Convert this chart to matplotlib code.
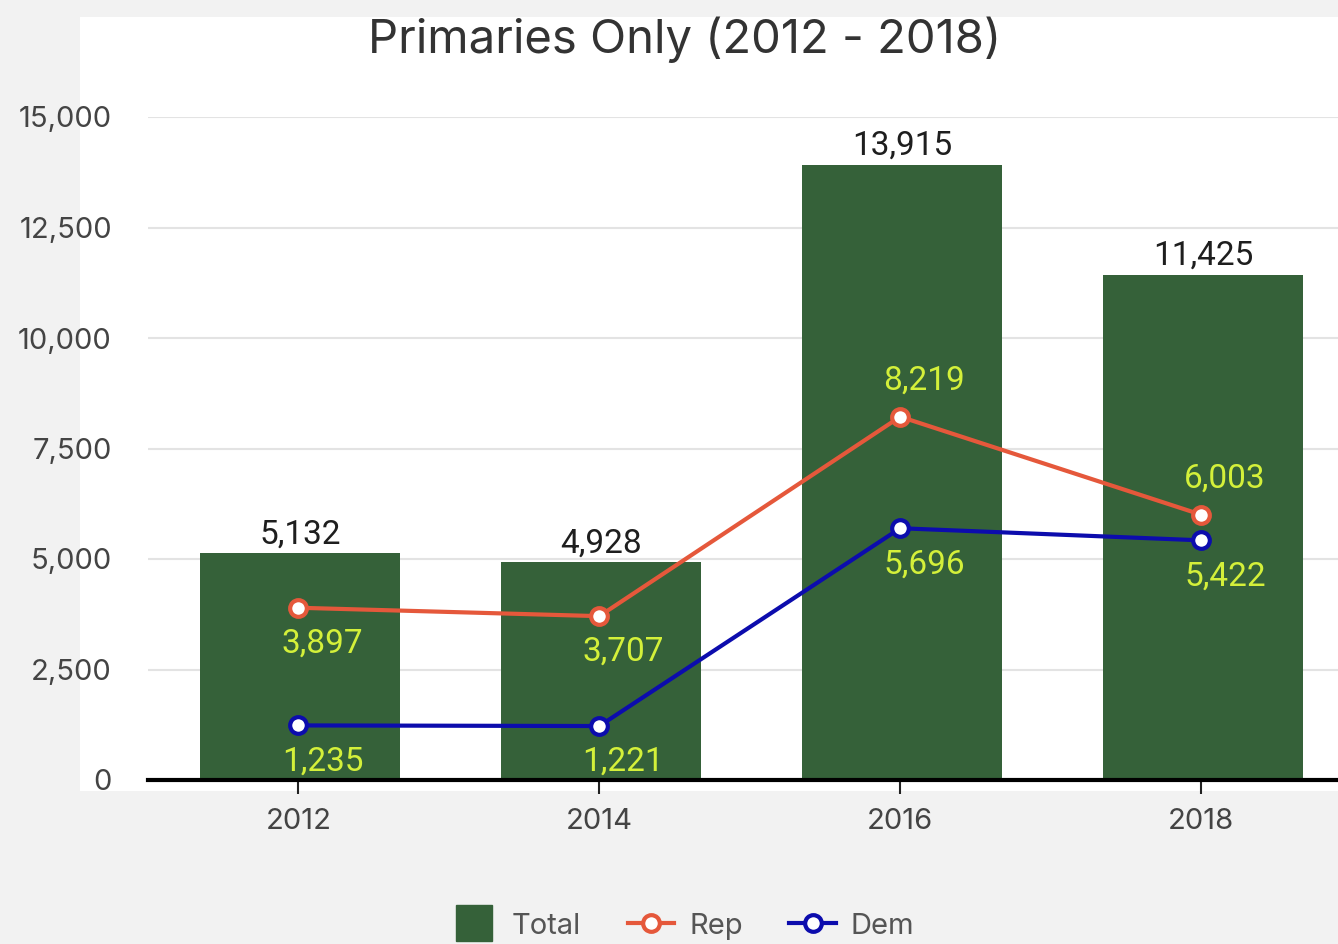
import matplotlib.pyplot as plt
import numpy as np
from matplotlib.patches import Rectangle
from matplotlib.lines import Line2D

years = ['2012', '2014', '2016', '2018']
total = [5132, 4928, 13915, 11425]
rep = [3897, 3707, 8219, 6003]
dem = [1235, 1221, 5696, 5422]
# label above (+1) or below (-1) the point
rep_side = [-1, -1, 1, 1]
dem_side = [-1, -1, -1, -1]

bar_col = '#356139'
rep_col = '#e5583b'
dem_col = '#0c0cad'
lbl_col = '#d4f03a'
W, H = 1338, 944

plt.rcParams['font.family'] = ['Inter', 'DejaVu Sans']

fig = plt.figure(figsize=(W / 100, H / 100), dpi=100)
fig.patch.set_facecolor('#f2f2f2')
fig.patches.append(Rectangle((80 / W, 1 - 791 / H), 1, (791 - 17) / H,
                             transform=fig.transFigure, facecolor='white',
                             edgecolor='none', zorder=-1))

ax = fig.add_axes([148 / W, 1 - 780 / H, 1 - 148 / W, (780 - 117) / H])
ax.set_facecolor('none')
x = np.arange(len(years))

ax.bar(x + 0.006, total, width=0.665, color=bar_col, zorder=2)
ax.plot(x, rep, color=rep_col, lw=3, marker='o', ms=12, mfc='white',
        mec=rep_col, mew=3, zorder=3)
ax.plot(x, dem, color=dem_col, lw=3, marker='o', ms=12, mfc='white',
        mec=dem_col, mew=3, zorder=3)

for i, v in enumerate(total):
    ax.annotate(f'{v:,}', (x[i], v), xytext=(2, 3), textcoords='offset pixels',
                ha='center', va='bottom', fontsize=24, color='#1e1e1e',
                family='Roboto')

for vals, sides in ((rep, rep_side), (dem, dem_side)):
    for i, v in enumerate(vals):
        ax.annotate(f'{v:,}', (x[i], v), xytext=(24, 36 * sides[i]),
                    textcoords='offset pixels', ha='center', va='center',
                    fontsize=24, color=lbl_col, family='Roboto', zorder=4)

ax.set_xlim(-0.5, 3.455)
ax.set_ylim(0, 15000)
ax.set_yticks(np.arange(0, 15001, 2500))
ax.set_yticklabels([f'{t:,}' for t in range(0, 15001, 2500)])
ax.set_xticks(x)
ax.set_xticklabels(years)
ax.grid(axis='y', color='#e3e3e3', lw=1.5, zorder=1)
ax.set_axisbelow(True)
for s in ['top', 'right', 'left']:
    ax.spines[s].set_visible(False)
ax.spines['bottom'].set_linewidth(3)
ax.spines['bottom'].set_color('black')
ax.spines['bottom'].set_zorder(5)
ax.tick_params(axis='y', length=0, pad=26, labelsize=21, labelcolor='#444444')
ax.tick_params(axis='x', length=10, width=1.5, color='#222222', pad=10,
               labelsize=21, labelcolor='#444444')

fig.text(0.512, 1 - 40 / H, 'Primaries Only (2012 - 2018)', ha='center',
         va='center', fontsize=34, color='#333333')

handles = [Line2D([], [], ls='none', marker='s', ms=26, color=bar_col,
                  label='Total'),
           Line2D([], [], color=rep_col, lw=3, marker='o', ms=12, mfc='white',
                  mec=rep_col, mew=3, label='Rep'),
           Line2D([], [], color=dem_col, lw=3, marker='o', ms=12, mfc='white',
                  mec=dem_col, mew=3, label='Dem')]
fig.legend(handles=handles, loc='center', bbox_to_anchor=(0.51, 1 - 926 / H),
           ncol=3, frameon=False, fontsize=21, labelcolor='#555555',
           handlelength=1.6, columnspacing=1.6, handletextpad=0.5)

fig.savefig('out.png', dpi=100, facecolor=fig.get_facecolor())
